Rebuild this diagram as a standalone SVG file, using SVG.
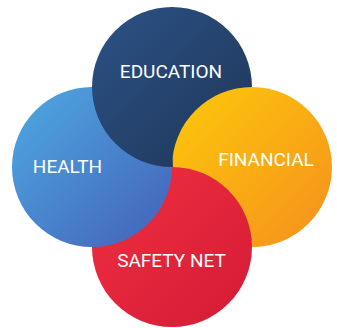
<svg xmlns="http://www.w3.org/2000/svg" width="337" height="328" viewBox="0 0 337 328">
<style>
.lbl{font-family:Roboto,"Liberation Sans",sans-serif;font-size:19px;fill:#ffffff;text-anchor:middle}
</style>
<defs>
<linearGradient id="gE" x1="0" y1="0" x2="1" y2="1"><stop offset="0" stop-color="#2c5287"/><stop offset="1" stop-color="#1e3656"/></linearGradient>
<linearGradient id="gH" x1="0" y1="0" x2="1" y2="1"><stop offset="0" stop-color="#4eaae2"/><stop offset="1" stop-color="#4460b8"/></linearGradient>
<linearGradient id="gF" x1="0" y1="0" x2="1" y2="1"><stop offset="0" stop-color="#fdc90a"/><stop offset="1" stop-color="#f58f1e"/></linearGradient>
<linearGradient id="gS" x1="0" y1="0" x2="1" y2="1"><stop offset="0" stop-color="#f0303f"/><stop offset="1" stop-color="#d41a36"/></linearGradient>
<clipPath id="clipH"><circle cx="92" cy="167" r="81"/></clipPath>
</defs>
<g id="education">
<circle cx="172" cy="87" r="80" fill="url(#gE)"/>
</g>
<g id="financial">
<circle cx="252" cy="167" r="80" fill="url(#gF)"/>
</g>
<g id="safety-net">
<circle cx="172" cy="247" r="80" fill="url(#gS)"/>
</g>
<g id="health">
<circle cx="92" cy="167" r="80" fill="url(#gH)"/>
</g>
<g id="education-overlap" clip-path="url(#clipH)">
<circle cx="172" cy="87" r="80" fill="url(#gE)"/>
</g>
<g id="labels">
<text class="lbl" x="171" y="78">EDUCATION</text>
<text class="lbl" x="67.5" y="173">HEALTH</text>
<text class="lbl" x="266" y="166">FINANCIAL</text>
<text class="lbl" x="171.5" y="267">SAFETY NET</text>
</g>
<g id="connectors"/>
</svg>
